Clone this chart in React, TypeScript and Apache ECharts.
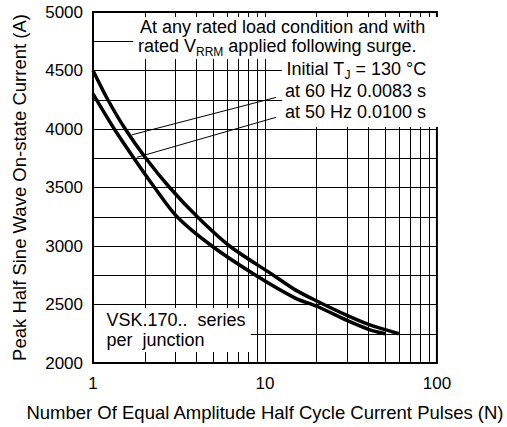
import React, { useEffect, useRef } from 'react';
import * as echarts from 'echarts';

const FONT = "'Liberation Sans', Arial, Helvetica, sans-serif";

// Axes
const xMin = 1;
const xMax = 100;
const yMin = 2000;
const yMax = 5000;
const yStep = 250;
const yLabelStep = 500;
const minorGridX = [2, 3, 4, 5, 6, 7, 8, 9, 10, 20, 30, 40, 50, 60, 70, 80, 90];

// 60 Hz (0.0083 s) curve
const pulses60 = [1, 1.22, 1.54, 2.03, 2.79, 4.04, 6.23, 11.2, 15, 20, 30, 40, 50, 60];
const current60 = [4500, 4250, 4000, 3750, 3500, 3250, 3000, 2750, 2625, 2530, 2407, 2330, 2285, 2250];

// 50 Hz (0.0100 s) curve
const pulses50 = [1, 1.33, 1.73, 2.28, 3.08, 4.91, 8.83, 15, 20, 30, 40, 50];
const current50 = [4300, 4000, 3750, 3500, 3250, 3000, 2750, 2555, 2485, 2364, 2288, 2250];

// Leader lines (label end -> curve end), data coordinates
const leader60 = [[11.6, 4270], [1.68, 3950]];
const leader50 = [[11.6, 4100], [1.8, 3758]];

export default function App() {
  const ref = useRef<HTMLDivElement>(null);
  useEffect(() => {
    const chart = echarts.init(ref.current!, null, { renderer: 'svg' });
    const s60 = pulses60.map((n, i) => [n, current60[i]]);
    const s50 = pulses50.map((n, i) => [n, current50[i]]);
    const txt = (text: string, x: number, y: number, rich?: any) => ({
      type: 'text',
      x,
      y,
      z: 101,
      style: {
        text,
        fontSize: 18,
        fontFamily: FONT,
        fill: '#000',
        align: 'left',
        verticalAlign: 'middle',
        lineHeight: 24,
        rich,
      },
    });
    const subStyle = { fontSize: 12, fontFamily: FONT, fill: '#000', verticalAlign: 'bottom', lineHeight: 12 };
    const leaderLine = (pts: number[][]) => ({
      silent: true,
      symbol: ['none', 'none'],
      label: { show: false },
      emphasis: { disabled: true },
      lineStyle: { color: '#000', width: 1, type: 'solid' },
      data: [[{ coord: pts[0] }, { coord: pts[1] }]],
    });
    const option: any = {
      animation: false,
      backgroundColor: '#fff',
      grid: {
        left: 93,
        right: 61,
        top: 12,
        bottom: 64,
        show: true,
        borderColor: '#000',
        borderWidth: 2,
        backgroundColor: 'transparent',
      },
      xAxis: {
        type: 'log',
        logBase: 10,
        min: xMin,
        max: xMax,
        name: 'Number Of Equal Amplitude Half Cycle Current Pulses (N)',
        nameLocation: 'middle',
        nameGap: 40,
        nameTextStyle: { fontSize: 18.5, color: '#000', fontFamily: FONT },
        axisLine: { show: true, lineStyle: { color: '#000', width: 2 } },
        axisTick: { show: false },
        axisLabel: { fontSize: 17, color: '#000', fontFamily: FONT, margin: 12 },
        splitLine: { show: false },
        minorTick: { show: false },
      },
      yAxis: {
        type: 'value',
        min: yMin,
        max: yMax,
        interval: yStep,
        name: 'Peak Half Sine Wave On-state Current (A)',
        nameLocation: 'middle',
        nameGap: 64,
        nameTextStyle: { fontSize: 18.5, color: '#000', fontFamily: FONT },
        axisLine: { show: true, lineStyle: { color: '#000', width: 2 } },
        axisTick: { show: false },
        axisLabel: {
          fontSize: 17,
          color: '#000',
          fontFamily: FONT,
          margin: 10,
          formatter: (v: number) => (v % yLabelStep === 0 ? String(v) : ''),
        },
        splitLine: { show: true, lineStyle: { color: '#000', width: 1 } },
      },
      series: [
        {
          type: 'line',
          z: 1,
          silent: true,
          data: s50,
          showSymbol: false,
          lineStyle: { opacity: 0 },
          markLine: {
            silent: true,
            symbol: ['none', 'none'],
            label: { show: false },
            emphasis: { disabled: true },
            lineStyle: { color: '#000', width: 1, type: 'solid' },
            data: minorGridX.map((v) => ({ xAxis: v })),
          },
        },
        {
          type: 'line',
          name: 'at 60 Hz 0.0083 s',
          z: 3,
          data: s60,
          smooth: 0.3,
          showSymbol: false,
          lineStyle: { color: '#000', width: 3.5 },
          markLine: leaderLine(leader60),
        },
        {
          type: 'line',
          name: 'at 50 Hz 0.0100 s',
          z: 3,
          data: s50,
          smooth: 0.3,
          showSymbol: false,
          lineStyle: { color: '#000', width: 3.5 },
          markLine: leaderLine(leader50),
        },
      ],
      graphic: [
        { type: 'rect', z: 100, shape: { x: 133, y: 17, width: 308, height: 42 }, style: { fill: '#fff' } },
        { type: 'rect', z: 100, shape: { x: 282, y: 58, width: 159, height: 69 }, style: { fill: '#fff' } },
        { type: 'rect', z: 100, shape: { x: 94, y: 308, width: 157, height: 44 }, style: { fill: '#fff' } },
        txt('At any rated load condition and with', 140, 26.5),
        txt('rated V{s|RRM} applied following surge.', 138, 45.5, { s: subStyle }),
        txt('Initial T{s|J} = 130 °C', 286.5, 68.5, { s: subStyle }),
        txt('at 60 Hz 0.0083 s', 285, 90.5),
        txt('at 50 Hz 0.0100 s', 285, 112),
        txt('VSK.170..  series', 106.5, 319.5),
        txt('per  junction', 106.5, 340),
      ],
    };
    chart.setOption(option);
    return () => chart.dispose();
  }, []);
  return (
    <div
      ref={ref}
      style={{ position: 'fixed', left: 0, top: 0, width: 507, height: 427, background: '#fff' }}
    />
  );
}
